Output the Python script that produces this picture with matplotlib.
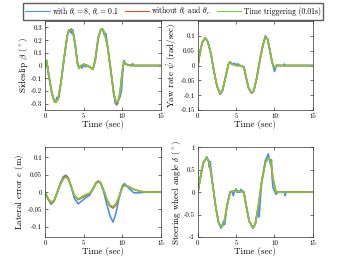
import numpy as np
import matplotlib
matplotlib.use('Agg')
import matplotlib.pyplot as plt

plt.rcParams['font.family'] = ['cmr10', 'DejaVu Serif']
plt.rcParams['mathtext.fontset'] = 'cm'
plt.rcParams['axes.unicode_minus'] = False

blue = '#4d8ff5'
red = '#e0522b'
green = '#7cc83f'

# sideslip beta (deg)
t_beta = [0, 0.2, 0.5, 0.9, 1.2, 1.4, 1.7, 2.1, 2.5, 2.9, 3.1, 3.4, 3.6, 3.9, 4.2, 4.4, 4.7, 5.0, 5.5, 6.0,
          6.2, 6.5, 6.9, 7.2, 7.4, 7.7, 8.1, 8.5, 8.9, 9.2, 9.4, 9.7, 10.0, 10.2, 10.5, 11, 15]
beta_green = [0, 0.04, -0.08, -0.22, -0.28, -0.29, -0.26, -0.12, 0.07, 0.24, 0.28, 0.28, 0.27, 0.17, 0.02, -0.02,
              0.0, 0.01, 0.0, -0.02, -0.03, 0.04, 0.22, 0.28, 0.29, 0.26, 0.15, -0.03, -0.22, -0.29, -0.29, -0.22,
              -0.05, 0.03, 0.01, 0.0, 0.0]
beta_red = [0, 0.04, -0.08, -0.22, -0.28, -0.29, -0.26, -0.12, 0.07, 0.24, 0.28, 0.28, 0.27, 0.17, 0.02, -0.02,
            0.0, 0.01, 0.0, -0.02, -0.03, 0.04, 0.22, 0.28, 0.29, 0.26, 0.15, -0.03, -0.22, -0.29, -0.3, -0.22,
            -0.05, 0.03, 0.01, 0.0, 0.0]
t_beta_b = [0, 0.2, 0.5, 0.9, 1.2, 1.4, 1.55, 1.65, 1.8, 2.1, 2.5, 2.9, 3.1, 3.3, 3.4, 3.5, 3.6, 3.9, 4.2, 4.4,
            4.6, 4.8, 5.0, 5.2, 5.5, 6.0, 6.2, 6.5, 6.9, 7.2, 7.4, 7.7, 7.9, 8.1, 8.5, 8.9, 9.1, 9.3, 9.5, 9.7,
            9.9, 10.0, 10.2, 10.5, 11.2, 11.35, 11.5, 15]
beta_blue = [0, 0.04, -0.08, -0.22, -0.28, -0.28, -0.25, -0.27, -0.25, -0.12, 0.07, 0.24, 0.28, 0.26, 0.29, 0.25,
             0.28, 0.17, 0.02, -0.02, 0.0, -0.02, 0.01, -0.01, 0.0, -0.02, -0.03, 0.04, 0.22, 0.28, 0.29, 0.24,
             0.25, 0.15, -0.03, -0.22, -0.3, -0.31, -0.27, -0.25, -0.2, -0.1, 0.04, 0.01, 0.0, 0.015, 0.0, 0.0]

# yaw rate (rad/sec)
t_yaw = [0, 0.3, 0.6, 0.95, 1.3, 1.7, 2.1, 2.5, 2.9, 3.2, 3.6, 4.0, 4.2, 4.5, 5.0, 5.5, 6.0, 6.3, 6.6, 7.0,
         7.3, 7.7, 8.1, 8.5, 8.8, 9.1, 9.4, 9.7, 10.0, 10.3, 10.7, 15]
yaw_green = [0, 0.05, 0.08, 0.093, 0.08, 0.04, -0.02, -0.07, -0.095, -0.085, -0.04, 0.005, 0.012, 0.005, 0.0,
             0.0, -0.005, -0.04, -0.075, -0.093, -0.085, -0.04, 0.02, 0.07, 0.095, 0.09, 0.05, 0.01, -0.008,
             0.0, 0.0, 0.0]
yaw_red = yaw_green
t_yaw_b = [0, 0.3, 0.6, 0.95, 1.3, 1.7, 2.1, 2.5, 2.9, 3.2, 3.6, 4.0, 4.2, 4.5, 4.8, 5.0, 5.2, 5.5, 6.0, 6.3,
           6.6, 7.0, 7.3, 7.7, 8.1, 8.5, 8.8, 9.1, 9.4, 9.7, 10.0, 10.1, 10.3, 10.7, 11.2, 11.3, 11.4, 15]
yaw_blue = [0, 0.05, 0.08, 0.093, 0.08, 0.04, -0.02, -0.07, -0.097, -0.085, -0.04, 0.005, 0.012, 0.003, 0.008,
            0.0, 0.006, 0.0, -0.005, -0.04, -0.075, -0.093, -0.085, -0.04, 0.02, 0.07, 0.1, 0.088, 0.05, 0.01,
            -0.02, -0.012, 0.002, 0.0, 0.0, 0.005, 0.0, 0.0]

# lateral error e (m)
t_e = [0, 0.4, 0.8, 1.2, 1.6, 2.0, 2.4, 2.7, 3.0, 3.4, 3.8, 4.3, 4.8, 5.3, 5.8, 6.2, 6.6, 6.9, 7.2, 7.6, 8.0,
       8.4, 8.8, 9.2, 9.6, 10.0, 10.3, 10.8, 11.5, 12.2, 13, 15]
e_green = [0, -0.018, -0.03, -0.022, 0.0, 0.022, 0.038, 0.043, 0.038, 0.015, -0.01, -0.02, -0.013, -0.007,
           -0.003, 0.01, 0.025, 0.029, 0.025, 0.005, -0.02, -0.037, -0.042, -0.033, -0.012, 0.013, 0.019,
           0.015, 0.008, 0.003, 0.0, 0.0]
e_red = [0, -0.02, -0.033, -0.024, 0.0, 0.024, 0.041, 0.046, 0.04, 0.016, -0.01, -0.022, -0.016, -0.01, -0.004,
         0.009, 0.026, 0.031, 0.027, 0.005, -0.022, -0.04, -0.046, -0.036, -0.014, 0.014, 0.02, 0.016, 0.008,
         0.003, 0.0, 0.0]
e_blue = [0, -0.02, -0.035, -0.025, 0.0, 0.027, 0.045, 0.049, 0.042, 0.015, -0.018, -0.034, -0.025, -0.016,
          -0.008, 0.008, 0.027, 0.032, 0.026, 0.0, -0.035, -0.068, -0.087, -0.06, -0.015, 0.018, 0.025, 0.012,
          -0.002, -0.002, 0.0, 0.0]

# steering wheel angle delta (deg)
t_d = [0, 0.3, 0.7, 1.15, 1.5, 1.9, 2.3, 2.7, 3.1, 3.4, 3.8, 4.2, 4.5, 5.0, 5.5, 6.0, 6.3, 6.7, 7.2, 7.5, 7.9,
       8.3, 8.8, 9.2, 9.5, 9.8, 10.2, 10.5, 15]
d_green = [0, 0.3, 0.65, 0.77, 0.65, 0.2, -0.3, -0.68, -0.78, -0.7, -0.3, 0.0, 0.02, 0.02, 0.02, 0.0, -0.3,
           -0.65, -0.8, -0.7, -0.3, 0.2, 0.65, 0.77, 0.7, 0.3, 0.0, 0.0, 0.0]
d_red = d_green
t_d_b = [0, 0.3, 0.7, 1.15, 1.4, 1.5, 1.6, 1.9, 2.3, 2.7, 3.0, 3.2, 3.35, 3.5, 3.8, 4.2, 4.5, 4.6, 4.8, 5.0,
         5.1, 5.5, 5.6, 6.0, 6.3, 6.7, 7.2, 7.5, 7.9, 8.0, 8.1, 8.3, 8.8, 9.2, 9.3, 9.5, 9.6, 9.7, 9.8, 10.2,
         10.5, 11.3, 11.4, 11.5, 15]
d_blue = [0, 0.3, 0.65, 0.78, 0.7, 0.55, 0.68, 0.2, -0.3, -0.68, -0.8, -0.72, -0.65, -0.72, -0.3, 0.0, 0.02,
          -0.08, 0.02, 0.07, 0.0, 0.0, 0.06, 0.0, -0.3, -0.65, -0.8, -0.7, -0.35, -0.55, -0.3, 0.2, 0.7, 0.85,
          0.75, 0.6, 0.72, 0.3, 0.1, -0.05, 0.0, 0.0, -0.08, 0.0, 0.0]

labels = [r'with $\theta_l = 8$, $\theta_r = 0.1$', r'without $\theta_l$ and $\theta_r$',
          'Time triggering (0.01s)']

fig = plt.figure(figsize=(3.46, 2.67), dpi=100)
pos = [[0.130, 0.588, 0.335, 0.333], [0.572, 0.588, 0.332, 0.333],
       [0.130, 0.112, 0.335, 0.337], [0.572, 0.112, 0.332, 0.337]]
panels = [
    (t_beta_b, beta_blue, t_beta, beta_red, t_beta, beta_green, r'Sideslip $\beta$ ($^\circ$)',
     (-0.35, 0.35), [-0.3, -0.2, -0.1, 0, 0.1, 0.2, 0.3], ['-0.3', '-0.2', '-0.1', '0', '0.1', '0.2', '0.3']),
    (t_yaw_b, yaw_blue, t_yaw, yaw_red, t_yaw, yaw_green, r'Yaw rate $\dot{\psi}$ (rad/sec)',
     (-0.15, 0.15), [-0.15, -0.1, -0.05, 0, 0.05, 0.1], ['-0.15', '-0.1', '-0.05', '0', '0.05', '0.1']),
    (t_e, e_blue, t_e, e_red, t_e, e_green, r'Lateral error $e$ (m)',
     (-0.13, 0.13), [-0.1, -0.05, 0, 0.05, 0.1], ['-0.1', '-0.05', '0', '0.05', '0.1']),
    (t_d_b, d_blue, t_d, d_red, t_d, d_green, r'Steering wheel angle $\delta$ ($^\circ$)',
     (-1, 1), [-1, -0.5, 0, 0.5, 1], ['-1', '-0.5', '0', '0.5', '1']),
]

handles = []
for p, (tb, yb, tr, yr, tg, yg, ylab, ylim, yt, ytl) in zip(pos, panels):
    ax = fig.add_axes(p)
    hb, = ax.plot(tb, yb, color=blue, lw=1.2)
    hr, = ax.plot(tr, yr, color=red, lw=1.2)
    hg, = ax.plot(tg, yg, color=green, lw=1.2)
    handles = [hb, hr, hg]
    ax.set_xlim(0, 15)
    ax.set_ylim(*ylim)
    ax.set_xticks([0, 5, 10, 15])
    ax.set_yticks(yt)
    ax.set_yticklabels(ytl)
    ax.tick_params(direction='in', labelsize=5, length=2, width=0.4, top=True, right=True, pad=2)
    for s in ax.spines.values():
        s.set_linewidth(0.5)
        s.set_color('#333333')
    ax.set_xlabel('Time (sec)', fontsize=6.5, labelpad=1)
    ax.set_ylabel(ylab, fontsize=6.5, labelpad=1)

leg = fig.legend(handles, labels, loc='upper center', bbox_to_anchor=(0.5, 0.995), ncol=3, fontsize=5.5,
                 frameon=True, fancybox=False, edgecolor='#333333', handlelength=3.2, handletextpad=0.3,
                 columnspacing=0.8, borderpad=0.3, borderaxespad=0.2)
for h in leg.get_lines():
    h.set_linewidth(0.8)

plt.savefig('out.png', dpi=100)
